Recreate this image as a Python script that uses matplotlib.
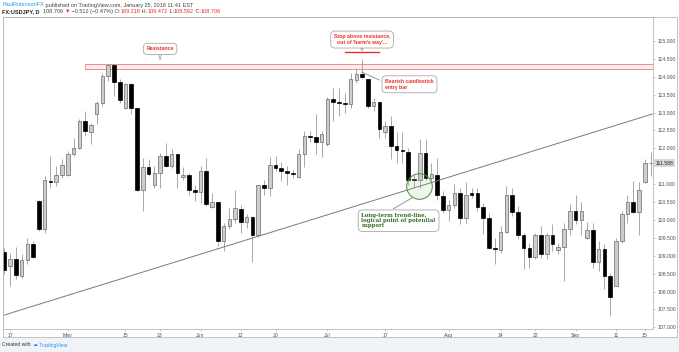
import matplotlib
matplotlib.use("Agg")
import matplotlib.pyplot as plt
from matplotlib.patches import Rectangle

# USDJPY daily candles (Apr 14 - Sep 19, 2017)
opens = [109.11, 108.71, 108.92, 108.43, 108.87, 109.34, 110.53, 109.76, 111.09, 111.07,
         111.27, 111.25, 111.85, 112.02, 112.76, 112.45, 112.95, 113.26, 114.02, 114.32,
         113.86, 113.13, 113.81, 113.12, 110.83, 111.48, 110.99, 111.30, 111.80, 111.50,
         111.85, 111.20, 111.27, 110.85, 110.78, 111.38, 110.37, 110.50, 109.41, 109.83,
         110.04, 110.32, 109.95, 110.08, 109.58, 110.97, 110.90, 111.53, 111.45, 111.38,
         111.32, 111.21, 111.85, 112.35, 112.33, 112.19, 112.12, 113.39, 113.29, 113.26,
         113.23, 113.90, 114.07, 113.95, 113.18, 113.29, 112.46, 112.62, 112.06, 111.95,
         111.91, 111.15, 111.13, 111.88, 111.18, 111.27, 110.67, 110.28, 110.42, 110.76,
         110.06, 110.74, 110.74, 110.36, 110.06, 109.22, 109.16, 109.67, 110.69, 110.22,
         109.58, 109.22, 108.97, 109.57, 109.04, 109.57, 109.16, 109.25, 109.76, 110.25,
         109.99, 109.50, 109.72, 108.82, 109.20, 108.43, 108.17, 109.41, 110.18, 110.51,
         110.23, 111.07, 111.58]
highs = [109.22, 109.09, 109.24, 109.04, 109.50, 109.41, 110.55, 111.23, 111.78, 111.50,
         111.71, 111.92, 112.30, 112.81, 113.04, 112.72, 113.32, 114.11, 114.35, 114.35,
         113.93, 113.83, 113.83, 113.12, 111.74, 111.71, 111.50, 111.88, 112.16, 111.99,
         111.85, 111.49, 111.32, 110.99, 111.50, 111.74, 110.76, 110.50, 109.92, 110.34,
         110.83, 110.43, 110.16, 110.11, 110.99, 111.13, 111.76, 111.78, 111.62, 111.52,
         111.41, 111.97, 112.48, 112.48, 112.95, 112.48, 113.44, 113.69, 113.69, 113.55,
         114.11, 114.21, 114.49, 113.95, 113.41, 113.29, 112.76, 112.90, 112.46, 112.46,
         112.02, 111.27, 112.25, 112.25, 111.60, 111.74, 110.81, 110.57, 111.01, 110.90,
         111.06, 110.90, 110.90, 110.48, 110.20, 109.50, 109.83, 110.95, 110.90, 110.39,
         109.64, 109.36, 109.64, 109.83, 109.64, 109.88, 109.36, 109.92, 110.46, 110.69,
         110.51, 109.94, 109.92, 109.41, 109.32, 108.53, 109.50, 110.25, 110.71, 111.09,
         111.06, 111.69, 111.89]
lows = [108.48, 108.15, 108.34, 108.39, 108.76, 108.95, 109.69, 109.63, 110.90, 110.95,
        111.18, 111.23, 111.78, 111.99, 112.34, 112.11, 112.67, 113.18, 113.88, 113.46,
        113.27, 113.09, 112.95, 110.81, 110.25, 111.23, 110.90, 110.90, 111.49, 111.46,
        110.90, 111.13, 110.71, 110.53, 110.48, 110.39, 110.34, 109.27, 109.13, 109.74,
        109.92, 109.64, 109.78, 108.83, 109.53, 110.71, 110.67, 111.37, 111.09, 110.99,
        111.18, 111.18, 111.49, 112.18, 111.83, 111.77, 112.08, 112.76, 112.90, 112.99,
        113.13, 113.83, 113.93, 113.13, 113.04, 112.30, 112.30, 111.69, 111.60, 111.60,
        110.99, 110.90, 110.90, 111.13, 111.13, 110.57, 110.20, 109.97, 110.34, 109.88,
        109.92, 110.62, 110.25, 109.60, 109.18, 108.76, 109.09, 109.64, 110.11, 109.48,
        108.64, 108.67, 108.90, 108.95, 108.90, 109.13, 109.04, 108.29, 109.58, 109.90,
        109.58, 109.46, 108.67, 108.57, 108.06, 107.33, 108.15, 109.36, 109.92, 110.20,
        109.58, 111.02, 111.22]
closes = [108.59, 108.92, 108.45, 108.87, 109.34, 108.97, 109.76, 111.11, 111.06, 111.27,
          111.54, 111.85, 112.02, 112.76, 112.48, 112.66, 113.26, 114.02, 114.32, 113.86,
          113.35, 113.81, 113.12, 110.83, 111.49, 111.29, 111.30, 111.80, 111.50, 111.85,
          111.32, 111.27, 110.85, 110.78, 111.38, 110.46, 110.50, 109.41, 109.83, 110.04,
          110.34, 109.95, 110.08, 109.58, 110.97, 110.88, 111.53, 111.45, 111.38, 111.32,
          111.29, 111.85, 112.35, 112.33, 112.19, 112.39, 113.39, 113.29, 113.26, 113.24,
          113.93, 114.07, 113.99, 113.18, 113.29, 112.53, 112.62, 112.06, 111.95, 111.92,
          111.13, 111.13, 111.88, 111.18, 111.29, 110.71, 110.28, 110.42, 110.76, 110.06,
          110.71, 110.71, 110.36, 110.06, 109.22, 109.20, 109.67, 110.69, 110.22, 109.58,
          109.22, 108.97, 109.57, 109.04, 109.57, 109.34, 109.25, 109.76, 110.25, 109.99,
          110.25, 109.72, 108.82, 109.20, 108.43, 107.86, 109.41, 110.18, 110.51, 110.23,
          110.85, 111.58, 111.59]

tick_bars = [1, 11, 21, 27, 34, 41, 47, 56, 66, 77, 86, 92, 99, 106, 111]
tick_labels = ["17", "May", "15", "23", "Jun", "12", "20", "Jul", "17", "Aug",
               "14", "22", "Sep", "11", "15"]
price_ticks = [107.0, 107.5, 108.0, 108.5, 109.0, 109.5, 110.0, 110.5, 111.0,
               111.5, 112.0, 112.5, 113.0, 113.5, 114.0, 114.5, 115.0]
last_price = 111.588
resistance = (114.21, 114.35)
trend_pts = ([-0.3, 112.3], [107.33, 112.96])

FONT = ["Liberation Sans", "DejaVu Sans"]
W, H = 679, 352

fig = plt.figure(figsize=(W / 100, H / 100), dpi=100)
fig.patch.set_facecolor("white")

# axes box in pixel terms
left, right, top, bottom = 2.7, 653, 17, 329
ax = fig.add_axes([left / W, 1 - bottom / H, (right - left) / W, (bottom - top) / H])
ax.set_xlim(-0.28, 112.42)
ax.set_ylim(106.955, 115.67)

# candles
idx = list(range(len(opens)))
body_lo = [min(o, c) for o, c in zip(opens, closes)]
body_h = [max(abs(c - o), 0.025) for o, c in zip(opens, closes)]
up = [c >= o for o, c in zip(opens, closes)]
ax.vlines(idx, lows, highs, color="#9a9a9a", lw=0.6, zorder=2)
ax.bar(idx, body_h, bottom=body_lo, width=0.62,
       color=["#cdcdcd" if u else "#000000" for u in up],
       edgecolor=["#6a6a6a" if u else "#000000" for u in up], linewidth=0.5, zorder=3)

# resistance zone
ax.add_patch(Rectangle((14, resistance[0]), 200, resistance[1] - resistance[0],
                       facecolor="#fdeeee", edgecolor="#f08c8c", lw=0.7, zorder=1))

# trend line
ax.plot(trend_pts[0], trend_pts[1], color="#7a7a7a", lw=0.7, zorder=4)

# axes styling
for s in ["left", "bottom", "right", "top"]:
    ax.spines[s].set_color("#b8b8b8")
    ax.spines[s].set_linewidth(0.6)
ax.yaxis.tick_right()
ax.set_yticks(price_ticks)
ax.set_yticklabels(["" if p == 111.5 else f"{p:.3f}" for p in price_ticks])
ax.set_xticks(tick_bars)
ax.set_xticklabels(tick_labels)
ax.tick_params(axis="both", labelsize=3.7, colors="#505050", length=1.5, width=0.4, pad=1.5)
ax.tick_params(axis="both", color="#9a9a9a")
for lab in ax.get_xticklabels() + ax.get_yticklabels():
    lab.set_family(FONT)

# last price marker
ax.text(1.004, last_price, f"{last_price:.3f}", transform=ax.get_yaxis_transform(),
        fontsize=3.7, color="#222222", va="center", ha="left", family=FONT,
        bbox=dict(boxstyle="square,pad=0.25", fc="#d8d8d8", ec="none"))

# callouts
red = "#e8302a"
green = "#2f6b1f"
box = dict(boxstyle="round,pad=0.6,rounding_size=0.8", fc="white", ec="#a8a8a8", lw=0.6)
ax.annotate("Resistance", xy=(27.0, 114.47), xytext=(27.0, 114.78),
            fontsize=3.7, color=red, fontweight="bold", ha="center", va="center", family=FONT,
            bbox=box, arrowprops=dict(arrowstyle="wedge,tail_width=0.5", fc="white",
                                      ec="#a8a8a8", lw=0.6, shrinkA=0, shrinkB=0), zorder=6)
ax.annotate("Stop above resistance,\nout of 'harm's way'...", xy=(62.0, 114.73),
            xytext=(62.0, 115.04), fontsize=3.7, color=red, fontweight="bold",
            ha="center", va="center", family=FONT, bbox=box,
            arrowprops=dict(arrowstyle="wedge,tail_width=0.5", fc="white",
                            ec="#a8a8a8", lw=0.6, shrinkA=0, shrinkB=0), zorder=6)
ax.plot([59.05, 64.95], [114.70, 114.70], color=red, lw=1.0, zorder=6)

ax.plot([61.94, 65.0], [114.13, 113.91], color="#8a8a8a", lw=0.6, zorder=5)
ax.text(66.0, 113.79, "Bearish candlestick\nentry bar", fontsize=3.7, color=red,
        fontweight="bold", ha="left", va="center", family=FONT, bbox=box, zorder=6)

ax.scatter([71.9], [110.95], s=340, facecolor=(0.55, 0.75, 0.5, 0.15),
           edgecolor="#4c8c3c", lw=0.7, zorder=5)
ax.plot([67.4, 70.9], [110.31, 110.64], color="#8a8a8a", lw=0.6, zorder=5)
ax.text(61.9, 109.98, "Long-term trend-line,\nlogical point of potential\nsupport",
        fontsize=3.9, color=green, fontweight="bold", ha="left", va="center",
        family="DejaVu Serif", linespacing=1.0, bbox=box, zorder=6)

# outer frame and footer
fig.add_artist(Rectangle((left / W, 1 - 337 / H), (677 - left) / W, (337 - top) / H,
                         transform=fig.transFigure, fill=False, ec="#b8b8b8", lw=0.6))
fig.add_artist(Rectangle((0, 0), 1, (H - 338) / H, transform=fig.transFigure,
                         fc="#f0f3f8", ec="none", zorder=0))

renderer = fig.canvas.get_renderer()


def line_of_text(x, y, pieces, size=4.0):
    # place coloured chunks one after another
    for text, color, weight in pieces:
        t = fig.text(x / W, 1 - y / H, text, color=color, fontsize=size,
                     fontweight=weight, family=FONT, va="center", ha="left")
        x += t.get_window_extent(renderer).width


line_of_text(2.5, 5, [("PaulRobinsonFX", "#2196f3", "normal"),
                      (" published on TradingView.com, January 25, 2018 11:41 EST", "#444444", "normal")])
line_of_text(2.5, 11.5, [("FX:USDJPY, D", "#222222", "bold"),
                         ("  108.706 ", "#444444", "normal"),
                         ("▼", "#e8302a", "normal"),
                         (" \u22120.512 (\u22120.47%) O:", "#444444", "normal"),
                         ("109.218", red, "normal"), (" H:", "#444444", "normal"),
                         ("109.472", red, "normal"), (" L:", "#444444", "normal"),
                         ("108.592", red, "normal"), (" C:", "#444444", "normal"),
                         ("108.706", red, "normal")])
line_of_text(2.5, 345, [("Created with ", "#333333", "normal"),
                        ("\u2601", "#2196f3", "normal"),
                        (" TradingView", "#2196f3", "normal")], size=3.6)

fig.savefig("out.png", dpi=100)
